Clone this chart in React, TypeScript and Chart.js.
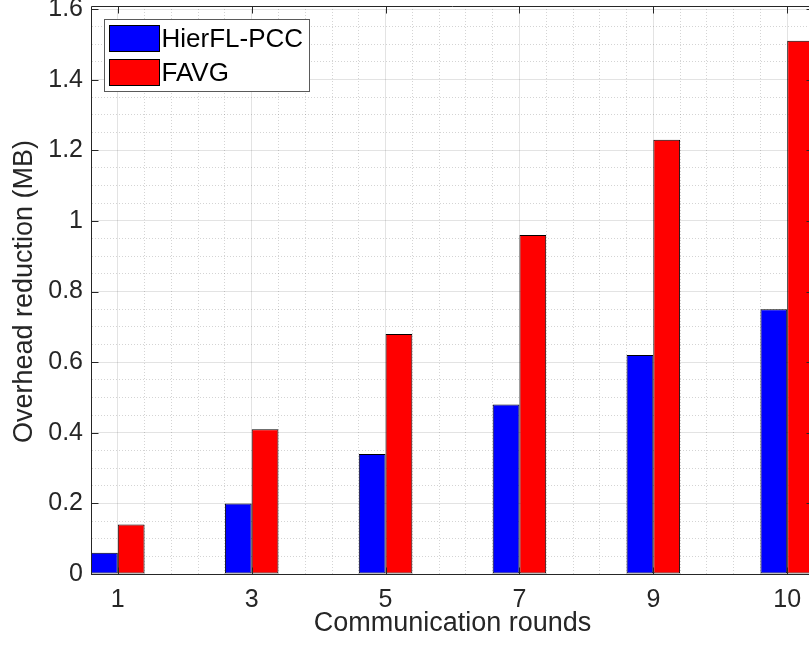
import React, { useEffect, useRef } from "react";
import { Chart, registerables } from "chart.js";

Chart.register(...registerables);

// ---- data ----
const categories = ["1", "3", "5", "7", "9", "10"];
const seriesNames = ["HierFL-PCC", "FAVG"];
const hierflPcc = [0.06, 0.2, 0.34, 0.48, 0.62, 0.75];
const favg = [0.14, 0.41, 0.68, 0.96, 1.23, 1.51];
const seriesColors = ["#0000ff", "#ff0000"];
const yTickLabels = ["0", "0.2", "0.4", "0.6", "0.8", "1", "1.2", "1.4", "1.6"];
const xTitle = "Communication rounds";
const yTitle = "Overhead reduction (MB)";

const FONT = "'Liberation Sans', Arial, Helvetica, sans-serif";
const AX = "#262626";

const yMax = 1.6;
const yMajorStep = 0.2;
const yMinorStep = 0.05;
const xMinorStep = 0.2;
const xPad = 0.2;

const near = (a: number, b: number) => Math.abs(a - b) < 1e-6;

const xMinorValues: number[] = [];
for (let k = -1; k <= (categories.length - 1) * 5 + 1; k++) xMinorValues.push(Math.round(k * xMinorStep * 1000) / 1000);
const yMinorValues: number[] = [];
for (let k = 0; k <= Math.round(yMax / yMinorStep); k++) yMinorValues.push(Math.round(k * yMinorStep * 1000) / 1000);

const isXMajor = (v: number) => near(v, Math.round(v)) && Math.round(v) >= 0 && Math.round(v) < categories.length;
const isYMajor = (v: number) => near(v / yMajorStep, Math.round(v / yMajorStep));

const gridColor = (major: boolean) => (major ? "rgba(38,38,38,0.13)" : "rgba(38,38,38,0.2)");

const framePlugin = {
  id: "matlabFrame",
  afterDatasetsDraw(chart: any) {
    const { ctx, chartArea: a, scales } = chart;
    const xs = scales.x;
    const ys = scales.y;
    ctx.save();
    ctx.strokeStyle = AX;
    ctx.lineWidth = 1;
    const L = Math.round(a.left) + 0.5;
    const R = Math.round(a.right) - 0.5;
    const T = Math.round(a.top) - 2.5;
    const B = Math.round(a.bottom) + 0.5;
    ctx.beginPath();
    ctx.moveTo(L, T); ctx.lineTo(R, T); ctx.lineTo(R, B); ctx.lineTo(L, B); ctx.closePath();
    ctx.stroke();
    const tl = 7;
    ctx.beginPath();
    xs.ticks.forEach((t: any) => {
      if (!isXMajor(t.value)) return;
      const px = Math.round(xs.getPixelForValue(t.value)) + 0.5;
      ctx.moveTo(px, B); ctx.lineTo(px, B - tl);
      ctx.moveTo(px, T); ctx.lineTo(px, T + tl);
    });
    ys.ticks.forEach((t: any) => {
      if (!isYMajor(t.value)) return;
      const py = Math.round(ys.getPixelForValue(t.value)) + 0.5;
      ctx.moveTo(L, py); ctx.lineTo(L + tl, py);
      ctx.moveTo(R, py); ctx.lineTo(R - tl, py);
    });
    ctx.stroke();

    // legend (box inside the axes, MATLAB style)
    const bx = Math.round(a.left) + 13.5;
    const by = Math.round(a.top) + 10.5;
    const bw = 205;
    const bh = 72;
    ctx.fillStyle = "#ffffff";
    ctx.fillRect(bx, by, bw, bh);
    ctx.strokeStyle = "#5a5a5a";
    ctx.strokeRect(bx, by, bw, bh);
    chart.data.datasets.forEach((ds: any, i: number) => {
      const sx = bx + 5;
      const sy = by + 6 + i * 34;
      ctx.fillStyle = ds.backgroundColor;
      ctx.fillRect(sx, sy, 50, 26);
      ctx.strokeStyle = "#000";
      ctx.strokeRect(sx, sy, 50, 26);
      ctx.fillStyle = "#000";
      ctx.font = `26px ${FONT}`;
      ctx.textAlign = "left";
      ctx.textBaseline = "middle";
      ctx.fillText(ds.label, sx + 52, sy + 14);
    });
    ctx.restore();
  },
};

export default function App() {
  const ref = useRef<HTMLCanvasElement | null>(null);
  useEffect(() => {
    if (!ref.current) return;
    const chart = new Chart(ref.current, {
      type: "bar",
      data: {
        datasets: [hierflPcc, favg].map((vals, s) => ({
          label: seriesNames[s],
          data: vals.map((v, i) => ({ x: i, y: v })),
          backgroundColor: seriesColors[s],
          borderColor: "#000000",
          borderWidth: 1,
          borderSkipped: false,
          // the bar ruler uses the smallest tick spacing (0.2 units): group = 2 × 0.2 = 0.4 units
          categoryPercentage: 2.0,
          barPercentage: 1.0,
        })),
      },
      options: {
        animation: false,
        responsive: true,
        maintainAspectRatio: false,
        events: [],
        layout: { padding: { top: 9, right: 10, left: 0, bottom: 0 } },
        plugins: { legend: { display: false }, tooltip: { enabled: false } },
        scales: {
          x: {
            type: "linear",
            offset: false,
            min: -xPad,
            max: categories.length - 1 + xPad,
            afterBuildTicks: (s: any) => {
              s.ticks = xMinorValues.map((v) => ({ value: v }));
            },
            afterFit: (s: any) => {
              s.height = 79;
              s.paddingLeft = 0;
              s.paddingRight = 0;
            },
            ticks: {
              autoSkip: false,
              maxRotation: 0,
              minRotation: 0,
              padding: 11,
              color: AX,
              font: { family: FONT, size: 25 },
              callback: (v: any) => (isXMajor(Number(v)) ? categories[Math.round(Number(v))] : ""),
            },
            grid: {
              offset: false,
              drawTicks: false,
              lineWidth: 1,
              color: (c: any) => gridColor(c.tick ? isXMajor(c.tick.value) : true),
            },
            border: {
              display: true,
              color: AX,
              dash: (c: any) => (c.tick && !isXMajor(c.tick.value) ? [1, 2] : []),
            },
            title: {
              display: true,
              text: xTitle,
              color: AX,
              font: { family: FONT, size: 27 },
              padding: { top: 0, bottom: 13 },
            },
          },
          y: {
            type: "linear",
            min: 0,
            max: yMax,
            afterBuildTicks: (s: any) => {
              s.ticks = yMinorValues.map((v) => ({ value: v }));
            },
            afterFit: (s: any) => {
              s.width = 91;
              s.paddingTop = 0;
              s.paddingBottom = 0;
            },
            ticks: {
              autoSkip: false,
              padding: 8,
              color: AX,
              font: { family: FONT, size: 25 },
              callback: (v: any) => (isYMajor(Number(v)) ? yTickLabels[Math.round(Number(v) / yMajorStep)] : ""),
            },
            grid: {
              drawTicks: false,
              lineWidth: 1,
              color: (c: any) => gridColor(c.tick ? isYMajor(c.tick.value) : true),
            },
            border: {
              display: true,
              color: AX,
              dash: (c: any) => (c.tick && !isYMajor(c.tick.value) ? [1, 2] : []),
            },
            title: {
              display: true,
              text: yTitle,
              color: AX,
              font: { family: FONT, size: 27 },
              padding: { top: 8, bottom: 0 },
            },
          },
        },
      },
      plugins: [framePlugin],
    } as any);
    return () => chart.destroy();
  }, []);

  return (
    <div style={{ position: "fixed", left: 0, top: 0, width: 809, height: 653, overflow: "hidden", background: "#ffffff" }}>
      <div style={{ position: "relative", width: 824, height: 653 }}>
        <canvas ref={ref} />
      </div>
    </div>
  );
}
